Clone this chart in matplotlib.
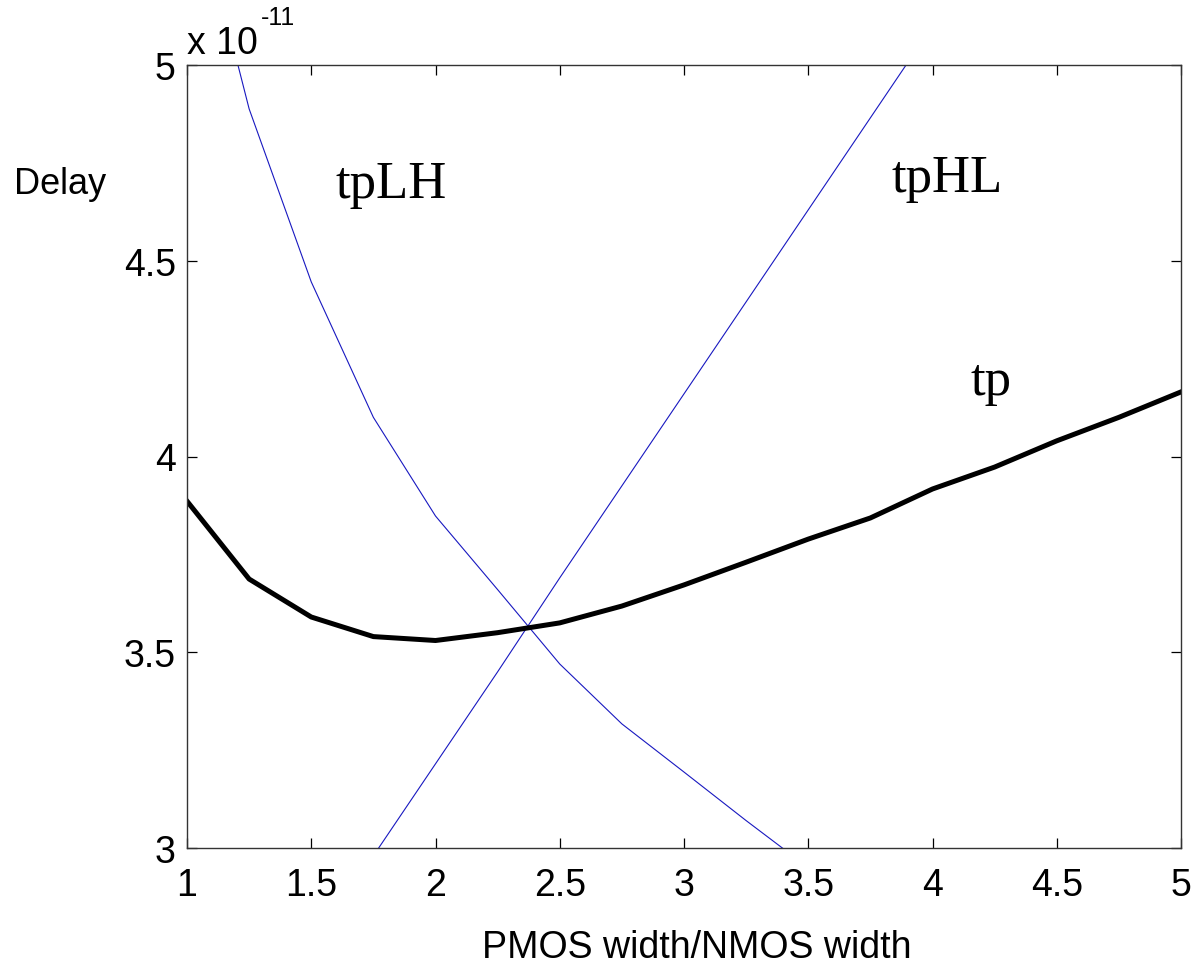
import numpy as np
import matplotlib.pyplot as plt

# ratio PMOS/NMOS width
ratio = [1.0, 1.25, 1.5, 1.75, 2.0, 2.25, 2.5, 2.75, 3.0, 3.25, 3.5,
         3.75, 4.0, 4.25, 4.5, 4.75, 5.0]

# delays in units of 1e-11 s
tpLH = [5.51, 4.888, 4.446, 4.10, 3.848, 3.66, 3.47, 3.317, 3.194, 3.07,
        2.95, 2.82, 2.73, 2.61, 2.505, 2.39, 2.28]
tpHL = [2.26, 2.49, 2.735, 2.98, 3.215, 3.45, 3.69, 3.925, 4.16, 4.395,
        4.63, 4.865, 5.10, 5.34, 5.575, 5.81, 6.05]
tp = [3.886, 3.687, 3.59, 3.54, 3.53, 3.55, 3.575, 3.618, 3.672, 3.73,
      3.789, 3.843, 3.917, 3.973, 4.04, 4.10, 4.165]

xticks = [1, 1.5, 2, 2.5, 3, 3.5, 4, 4.5, 5]
xticklabels = ['1', '1.5', '2', '2.5', '3', '3.5', '4', '4.5', '5']
yticks = [3, 3.5, 4, 4.5, 5]
yticklabels = ['3', '3.5', '4', '4.5', '5']

plt.rcParams['font.family'] = ['Liberation Sans', 'DejaVu Sans']

fig = plt.figure(figsize=(11.94, 9.70), dpi=100)
ax = fig.add_axes([187/1194, 1 - 849/970, 994/1194, 783/970])

ax.plot(ratio, tpLH, color='#1818c0', lw=0.8)
ax.plot(ratio, tpHL, color='#1818c0', lw=0.8)
ax.plot(ratio, tp, color='black', lw=3.6, solid_joinstyle='round')

ax.set_xlim(1, 5)
ax.set_ylim(3, 5)
ax.set_xticks(xticks)
ax.set_xticklabels(xticklabels)
ax.set_yticks(yticks)
ax.set_yticklabels(yticklabels)
ax.tick_params(direction='in', length=7, width=0.9, labelsize=27,
               top=True, right=True)
ax.tick_params(axis='x', pad=14)
ax.tick_params(axis='y', pad=8)
for s in ax.spines.values():
    s.set_linewidth(1.0)
    s.set_color('#333333')

# etiquetas de las curvas
serif = ['Liberation Serif', 'DejaVu Serif']
ax.text(1.596, 4.663, 'tpLH', family=serif, fontsize=38)
ax.text(3.833, 4.678, 'tpHL', family=serif, fontsize=38)
ax.text(4.151, 4.16, 'tp', family=serif, fontsize=38)

# factor de escala estilo MATLAB
fig.text(187/1194, 1 - 54/970, 'x 10', fontsize=27, va='baseline')
fig.text(261/1194, 1 - 25/970, '-11', fontsize=18, va='baseline')

fig.text(60/1194, 1 - 185/970, 'Delay', fontsize=26, ha='center', va='center')
fig.text(697/1194, 1 - 958/970, 'PMOS width/NMOS width', fontsize=27,
         ha='center', va='baseline')

plt.savefig('out.png', dpi=100)
